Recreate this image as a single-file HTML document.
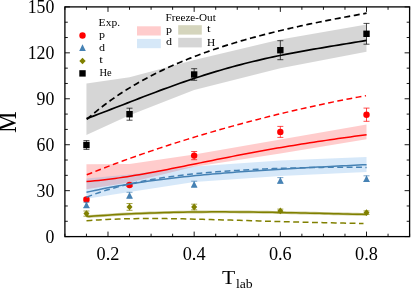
<!DOCTYPE html>
<html><head><meta charset="utf-8"><title>plot</title>
<style>
html,body{margin:0;padding:0;background:#fff;}
body{width:411px;height:288px;overflow:hidden;}
svg{display:block;will-change:transform;font-family:"Liberation Serif",serif;fill:#000;}
</style></head><body>
<svg width="411" height="288" viewBox="0 0 411 288">
<rect width="411" height="288" fill="#fff"/>
<polygon points="86.44,83.4 129.53,77.2 194.16,60 280.34,39.5 366.51,24.5 366.51,51.8 280.34,68.2 194.16,90 129.53,115.3 86.44,135.1" fill="#000" fill-opacity="0.16"/>
<polygon points="86.44,164.3 129.53,164 194.16,154.5 280.34,139.5 366.51,124.5 366.51,139.3 280.34,153.5 194.16,166.8 129.53,182.5 86.44,189.3" fill="#ff0000" fill-opacity="0.2"/>
<polygon points="86.44,178.5 129.53,174.5 194.16,166.5 280.34,160.4 366.51,156.9 366.51,172 280.34,175.9 194.16,182 129.53,192 86.44,198.8" fill="#5aa5e8" fill-opacity="0.25"/>
<path d="M86.44 198 V201 M83.44 198 H89.44 M83.44 201 H89.44" stroke="#ff0000" stroke-width="0.7" fill="none"/>
<circle cx="86.44" cy="199.5" r="3.2" fill="#ff0000"/>
<path d="M129.53 183.5 V186.5 M126.53 183.5 H132.53 M126.53 186.5 H132.53" stroke="#ff0000" stroke-width="0.7" fill="none"/>
<circle cx="129.53" cy="185" r="3.2" fill="#ff0000"/>
<path d="M194.16 151.5 V159.7 M191.16 151.5 H197.16 M191.16 159.7 H197.16" stroke="#ff0000" stroke-width="0.7" fill="none"/>
<circle cx="194.16" cy="155.6" r="3.2" fill="#ff0000"/>
<path d="M280.34 126.4 V137.4 M277.34 126.4 H283.34 M277.34 137.4 H283.34" stroke="#ff0000" stroke-width="0.7" fill="none"/>
<circle cx="280.34" cy="131.9" r="3.2" fill="#ff0000"/>
<path d="M366.51 108.1 V121.3 M363.51 108.1 H369.51 M363.51 121.3 H369.51" stroke="#ff0000" stroke-width="0.7" fill="none"/>
<circle cx="366.51" cy="114.7" r="3.2" fill="#ff0000"/>
<path d="M86.5 181.47 L90.56 181.15 L94.62 180.79 L98.68 180.39 L102.74 179.95 L106.8 179.48 L110.86 178.97 L114.92 178.43 L118.98 177.87 L123.03 177.27 L127.09 176.65 L131.15 176 L135.21 175.34 L139.27 174.65 L143.33 173.94 L147.39 173.22 L151.45 172.48 L155.51 171.72 L159.57 170.96 L163.63 170.18 L167.69 169.39 L171.75 168.59 L175.81 167.79 L179.87 166.98 L183.93 166.16 L187.99 165.34 L192.04 164.52 L196.1 163.7 L200.16 162.88 L204.22 162.05 L208.28 161.23 L212.34 160.41 L216.4 159.59 L220.46 158.78 L224.52 157.97 L228.58 157.17 L232.64 156.37 L236.7 155.58 L240.76 154.8 L244.82 154.02 L248.88 153.25 L252.94 152.49 L257 151.74 L261.06 150.99 L265.11 150.26 L269.17 149.53 L273.23 148.82 L277.29 148.11 L281.35 147.42 L285.41 146.73 L289.47 146.05 L293.53 145.39 L297.59 144.73 L301.65 144.08 L305.71 143.44 L309.77 142.81 L313.83 142.19 L317.89 141.57 L321.95 140.97 L326.01 140.37 L330.07 139.78 L334.12 139.19 L338.18 138.61 L342.24 138.04 L346.3 137.47 L350.36 136.9 L354.42 136.33 L358.48 135.77 L362.54 135.21 L366.6 134.65" fill="none" stroke="#ff0000" stroke-width="1.5"/>
<path d="M86.75 174.81 L90.8 173.18 L94.84 171.57 L98.89 169.99 L102.94 168.42 L106.99 166.86 L111.03 165.33 L115.08 163.81 L119.13 162.31 L123.17 160.82 L127.22 159.36 L131.27 157.9 L135.32 156.47 L139.36 155.04 L143.41 153.64 L147.46 152.25 L151.5 150.87 L155.55 149.51 L159.6 148.16 L163.64 146.83 L167.69 145.51 L171.74 144.2 L175.79 142.91 L179.83 141.63 L183.88 140.36 L187.93 139.11 L191.97 137.87 L196.02 136.64 L200.07 135.43 L204.12 134.22 L208.16 133.03 L212.21 131.86 L216.26 130.69 L220.3 129.53 L224.35 128.39 L228.4 127.26 L232.45 126.14 L236.49 125.04 L240.54 123.94 L244.59 122.86 L248.63 121.78 L252.68 120.72 L256.73 119.67 L260.78 118.63 L264.82 117.61 L268.87 116.59 L272.92 115.58 L276.96 114.59 L281.01 113.61 L285.06 112.64 L289.11 111.68 L293.15 110.73 L297.2 109.79 L301.25 108.86 L305.29 107.95 L309.34 107.05 L313.39 106.15 L317.43 105.27 L321.48 104.41 L325.53 103.55 L329.58 102.7 L333.62 101.87 L337.67 101.05 L341.72 100.24 L345.76 99.45 L349.81 98.66 L353.86 97.89 L357.91 97.13 L361.95 96.39 L366 95.65" fill="none" stroke="#ff0000" stroke-width="1.5" stroke-dasharray="5.85 3.49"/>
<path d="M86.44 202.3 V207.5 M83.44 202.3 H89.44 M83.44 207.5 H89.44" stroke="#4682b4" stroke-width="0.7" fill="none"/>
<polygon points="86.44,201.6 83.14,208.2 89.74,208.2" fill="#4682b4"/>
<path d="M129.53 192.3 V198.3 M126.53 192.3 H132.53 M126.53 198.3 H132.53" stroke="#4682b4" stroke-width="0.7" fill="none"/>
<polygon points="129.53,192 126.23,198.6 132.83,198.6" fill="#4682b4"/>
<path d="M194.16 181.2 V187.2 M191.16 181.2 H197.16 M191.16 187.2 H197.16" stroke="#4682b4" stroke-width="0.7" fill="none"/>
<polygon points="194.16,180.9 190.86,187.5 197.46,187.5" fill="#4682b4"/>
<path d="M280.34 177.6 V183.2 M277.34 177.6 H283.34 M277.34 183.2 H283.34" stroke="#4682b4" stroke-width="0.7" fill="none"/>
<polygon points="280.34,177.1 277.04,183.7 283.64,183.7" fill="#4682b4"/>
<path d="M366.51 175.8 V181.4 M363.51 175.8 H369.51 M363.51 181.4 H369.51" stroke="#4682b4" stroke-width="0.7" fill="none"/>
<polygon points="366.51,175.3 363.21,181.9 369.81,181.9" fill="#4682b4"/>
<path d="M86.5 192.29 L90.56 191.39 L94.62 190.52 L98.68 189.68 L102.74 188.86 L106.8 188.07 L110.86 187.3 L114.92 186.55 L118.98 185.83 L123.03 185.13 L127.09 184.45 L131.15 183.79 L135.21 183.15 L139.27 182.53 L143.33 181.93 L147.39 181.35 L151.45 180.78 L155.51 180.23 L159.57 179.7 L163.63 179.19 L167.69 178.69 L171.75 178.21 L175.81 177.74 L179.87 177.28 L183.93 176.84 L187.99 176.41 L192.04 175.99 L196.1 175.59 L200.16 175.19 L204.22 174.81 L208.28 174.44 L212.34 174.08 L216.4 173.73 L220.46 173.39 L224.52 173.06 L228.58 172.73 L232.64 172.42 L236.7 172.11 L240.76 171.81 L244.82 171.52 L248.88 171.23 L252.94 170.95 L257 170.68 L261.06 170.41 L265.11 170.15 L269.17 169.89 L273.23 169.64 L277.29 169.39 L281.35 169.15 L285.41 168.91 L289.47 168.67 L293.53 168.44 L297.59 168.21 L301.65 167.99 L305.71 167.77 L309.77 167.55 L313.83 167.33 L317.89 167.11 L321.95 166.9 L326.01 166.69 L330.07 166.48 L334.12 166.27 L338.18 166.07 L342.24 165.86 L346.3 165.66 L350.36 165.46 L354.42 165.25 L358.48 165.05 L362.54 164.85 L366.6 164.65" fill="none" stroke="#4682b4" stroke-width="1.5"/>
<path d="M86.5 197.19 L90.56 195.62 L94.62 194.13 L98.68 192.72 L102.74 191.37 L106.8 190.09 L110.86 188.87 L114.92 187.71 L118.98 186.61 L123.03 185.57 L127.09 184.58 L131.15 183.63 L135.21 182.74 L139.27 181.89 L143.33 181.08 L147.39 180.31 L151.45 179.59 L155.51 178.89 L159.57 178.24 L163.63 177.61 L167.69 177.02 L171.75 176.46 L175.81 175.92 L179.87 175.42 L183.93 174.93 L187.99 174.47 L192.04 174.04 L196.1 173.62 L200.16 173.23 L204.22 172.85 L208.28 172.49 L212.34 172.15 L216.4 171.83 L220.46 171.52 L224.52 171.22 L228.58 170.94 L232.64 170.67 L236.7 170.42 L240.76 170.18 L244.82 169.95 L248.88 169.73 L252.94 169.52 L257 169.32 L261.06 169.13 L265.11 168.95 L269.17 168.78 L273.23 168.62 L277.29 168.47 L281.35 168.33 L285.41 168.19 L289.47 168.07 L293.53 167.95 L297.59 167.85 L301.65 167.75 L305.71 167.66 L309.77 167.58 L313.83 167.5 L317.89 167.44 L321.95 167.39 L326.01 167.34 L330.07 167.3 L334.12 167.28 L338.18 167.26 L342.24 167.25 L346.3 167.25 L350.36 167.27 L354.42 167.29 L358.48 167.32 L362.54 167.36 L366.6 167.42" fill="none" stroke="#4682b4" stroke-width="1.5" stroke-dasharray="5.9 3.5"/>
<path d="M86.44 211 V216.2 M83.44 211 H89.44 M83.44 216.2 H89.44" stroke="#808000" stroke-width="0.7" fill="none"/>
<polygon points="86.44,210.2 89.44,213.6 86.44,217 83.44,213.6" fill="#808000"/>
<path d="M129.53 203.5 V210.3 M126.53 203.5 H132.53 M126.53 210.3 H132.53" stroke="#808000" stroke-width="0.7" fill="none"/>
<polygon points="129.53,203.5 132.53,206.9 129.53,210.3 126.53,206.9" fill="#808000"/>
<path d="M194.16 204.2 V209.8 M191.16 204.2 H197.16 M191.16 209.8 H197.16" stroke="#808000" stroke-width="0.7" fill="none"/>
<polygon points="194.16,203.6 197.16,207 194.16,210.4 191.16,207" fill="#808000"/>
<path d="M280.34 209.1 V212.7 M277.34 209.1 H283.34 M277.34 212.7 H283.34" stroke="#808000" stroke-width="0.7" fill="none"/>
<polygon points="280.34,207.5 283.34,210.9 280.34,214.3 277.34,210.9" fill="#808000"/>
<path d="M366.51 210.9 V214.5 M363.51 210.9 H369.51 M363.51 214.5 H369.51" stroke="#808000" stroke-width="0.7" fill="none"/>
<polygon points="366.51,209.3 369.51,212.7 366.51,216.1 363.51,212.7" fill="#808000"/>
<path d="M86.6 213.6 L87.7 216.3 L89 216.44 L93.71 216.09 L98.41 215.76 L103.12 215.44 L107.82 215.13 L112.53 214.84 L117.23 214.57 L121.94 214.31 L126.64 214.06 L131.35 213.83 L136.05 213.61 L140.76 213.41 L145.46 213.22 L150.17 213.04 L154.87 212.88 L159.58 212.73 L164.28 212.59 L168.99 212.47 L173.69 212.35 L178.4 212.25 L183.1 212.17 L187.81 212.09 L192.51 212.03 L197.22 211.97 L201.92 211.93 L206.63 211.9 L211.33 211.87 L216.04 211.86 L220.74 211.86 L225.45 211.87 L230.15 211.88 L234.86 211.9 L239.56 211.94 L244.27 211.98 L248.97 212.03 L253.68 212.08 L258.38 212.14 L263.09 212.21 L267.79 212.28 L272.5 212.36 L277.2 212.45 L281.91 212.54 L286.61 212.63 L291.32 212.73 L296.02 212.83 L300.73 212.93 L305.43 213.04 L310.14 213.15 L314.84 213.26 L319.55 213.37 L324.25 213.48 L328.96 213.59 L333.66 213.7 L338.37 213.81 L343.07 213.92 L347.78 214.03 L352.48 214.13 L357.19 214.23 L361.89 214.33 L366.6 214.42" fill="none" stroke="#808000" stroke-width="2.9" stroke-opacity="0.4"/>
<path d="M86.6 213.6 L87.7 216.3 L89 216.44 L93.71 216.09 L98.41 215.76 L103.12 215.44 L107.82 215.13 L112.53 214.84 L117.23 214.57 L121.94 214.31 L126.64 214.06 L131.35 213.83 L136.05 213.61 L140.76 213.41 L145.46 213.22 L150.17 213.04 L154.87 212.88 L159.58 212.73 L164.28 212.59 L168.99 212.47 L173.69 212.35 L178.4 212.25 L183.1 212.17 L187.81 212.09 L192.51 212.03 L197.22 211.97 L201.92 211.93 L206.63 211.9 L211.33 211.87 L216.04 211.86 L220.74 211.86 L225.45 211.87 L230.15 211.88 L234.86 211.9 L239.56 211.94 L244.27 211.98 L248.97 212.03 L253.68 212.08 L258.38 212.14 L263.09 212.21 L267.79 212.28 L272.5 212.36 L277.2 212.45 L281.91 212.54 L286.61 212.63 L291.32 212.73 L296.02 212.83 L300.73 212.93 L305.43 213.04 L310.14 213.15 L314.84 213.26 L319.55 213.37 L324.25 213.48 L328.96 213.59 L333.66 213.7 L338.37 213.81 L343.07 213.92 L347.78 214.03 L352.48 214.13 L357.19 214.23 L361.89 214.33 L366.6 214.42" fill="none" stroke="#808000" stroke-width="1.5"/>
<path d="M86.5 220.75 L90.51 220.44 L94.53 220.16 L98.54 219.91 L102.56 219.68 L106.57 219.48 L110.59 219.29 L114.6 219.13 L118.62 219 L122.63 218.88 L126.64 218.78 L130.66 218.7 L134.67 218.63 L138.69 218.58 L142.7 218.55 L146.72 218.53 L150.73 218.52 L154.75 218.53 L158.76 218.55 L162.78 218.58 L166.79 218.62 L170.8 218.67 L174.82 218.73 L178.83 218.79 L182.85 218.87 L186.86 218.95 L190.88 219.04 L194.89 219.13 L198.91 219.23 L202.92 219.33 L206.93 219.43 L210.95 219.54 L214.96 219.65 L218.98 219.77 L222.99 219.89 L227.01 220 L231.02 220.12 L235.04 220.24 L239.05 220.36 L243.07 220.48 L247.08 220.6 L251.09 220.72 L255.11 220.84 L259.12 220.96 L263.14 221.08 L267.15 221.2 L271.17 221.31 L275.18 221.42 L279.2 221.54 L283.21 221.65 L287.22 221.75 L291.24 221.86 L295.25 221.96 L299.27 222.07 L303.28 222.17 L307.3 222.26 L311.31 222.36 L315.33 222.46 L319.34 222.55 L323.36 222.64 L327.37 222.73 L331.38 222.82 L335.4 222.91 L339.41 223 L343.43 223.09 L347.44 223.18 L351.46 223.26 L355.47 223.35 L359.49 223.44 L363.5 223.54" fill="none" stroke="#808000" stroke-width="1.5" stroke-dasharray="5.9 3.5"/>
<path d="M86.44 140.6 V149.4 M83.44 140.6 H89.44 M83.44 149.4 H89.44" stroke="#000000" stroke-width="0.7" fill="none"/>
<rect x="83.24" y="141.8" width="6.4" height="6.4" fill="#000000"/>
<path d="M129.53 108.2 V120.2 M126.53 108.2 H132.53 M126.53 120.2 H132.53" stroke="#000000" stroke-width="0.7" fill="none"/>
<rect x="126.33" y="111" width="6.4" height="6.4" fill="#000000"/>
<path d="M194.16 68.7 V80.3 M191.16 68.7 H197.16 M191.16 80.3 H197.16" stroke="#000000" stroke-width="0.7" fill="none"/>
<rect x="190.96" y="71.3" width="6.4" height="6.4" fill="#000000"/>
<path d="M280.34 40.7 V59.7 M277.34 40.7 H283.34 M277.34 59.7 H283.34" stroke="#000000" stroke-width="0.7" fill="none"/>
<rect x="277.14" y="47" width="6.4" height="6.4" fill="#000000"/>
<path d="M366.51 23.4 V44.2 M363.51 23.4 H369.51 M363.51 44.2 H369.51" stroke="#000000" stroke-width="0.7" fill="none"/>
<rect x="363.31" y="30.6" width="6.4" height="6.4" fill="#000000"/>
<path d="M86.5 118.62 L90.56 117.12 L94.62 115.6 L98.68 114.07 L102.74 112.52 L106.8 110.96 L110.86 109.4 L114.92 107.82 L118.98 106.25 L123.03 104.67 L127.09 103.09 L131.15 101.51 L135.21 99.94 L139.27 98.37 L143.33 96.81 L147.39 95.26 L151.45 93.72 L155.51 92.19 L159.57 90.67 L163.63 89.17 L167.69 87.68 L171.75 86.21 L175.81 84.76 L179.87 83.32 L183.93 81.91 L187.99 80.52 L192.04 79.15 L196.1 77.8 L200.16 76.47 L204.22 75.17 L208.28 73.89 L212.34 72.64 L216.4 71.42 L220.46 70.21 L224.52 69.04 L228.58 67.89 L232.64 66.76 L236.7 65.66 L240.76 64.59 L244.82 63.54 L248.88 62.52 L252.94 61.52 L257 60.55 L261.06 59.6 L265.11 58.68 L269.17 57.78 L273.23 56.9 L277.29 56.04 L281.35 55.21 L285.41 54.39 L289.47 53.6 L293.53 52.82 L297.59 52.06 L301.65 51.32 L305.71 50.59 L309.77 49.87 L313.83 49.17 L317.89 48.47 L321.95 47.79 L326.01 47.11 L330.07 46.44 L334.12 45.78 L338.18 45.11 L342.24 44.45 L346.3 43.78 L350.36 43.11 L354.42 42.44 L358.48 41.75 L362.54 41.06 L366.6 40.35" fill="none" stroke="#000000" stroke-width="1.7"/>
<path d="M86.9 119.31 L89.25 117.26 L91.6 115.25 L93.95 113.27 L96.3 111.33 L98.65 109.43 L101 107.58 L103.35 105.76 L105.7 103.99 L108.05 102.25 L110.4 100.55 L112.75 98.88 L115.11 97.25 L117.46 95.65 L119.81 94.08 L122.16 92.55 L124.51 91.04 L126.86 89.57 L129.21 88.12 L131.56 86.69 L133.91 85.3 L136.26 83.93 L138.61 82.58 L140.96 81.26 L143.31 79.97 L145.66 78.69 L148.01 77.44 L150.36 76.21 L152.71 75 L155.06 73.81 L157.41 72.64 L159.76 71.5 L162.11 70.37 L164.46 69.25 L166.81 68.16 L169.16 67.08 L171.52 66.03 L173.87 64.98 L176.22 63.96 L178.57 62.95 L180.92 61.96 L183.27 60.98 L185.62 60.02 L187.97 59.07 L190.32 58.13 L192.67 57.21 L195.02 56.31 L197.37 55.42 L199.72 54.54 L202.07 53.67 L204.42 52.82 L206.77 51.97 L209.12 51.14 L211.47 50.33 L213.82 49.52 L216.17 48.72 L218.52 47.94 L220.87 47.17 L223.22 46.4 L225.57 45.65 L227.93 44.91 L230.28 44.18 L232.63 43.45 L234.98 42.74 L237.33 42.04 L239.68 41.34 L242.03 40.66 L244.38 39.98 L246.73 39.31 L249.08 38.65 L251.43 38 L253.78 37.36 L256.13 36.72 L258.48 36.1 L260.83 35.47 L263.18 34.86 L265.53 34.26 L267.88 33.66 L270.23 33.07 L272.58 32.48 L274.93 31.9 L277.28 31.33 L279.63 30.77 L281.98 30.21 L284.34 29.65 L286.69 29.11 L289.04 28.57 L291.39 28.03 L293.74 27.5 L296.09 26.97 L298.44 26.46 L300.79 25.94 L303.14 25.43 L305.49 24.93 L307.84 24.43 L310.19 23.93 L312.54 23.44 L314.89 22.96 L317.24 22.48 L319.59 22 L321.94 21.53 L324.29 21.06 L326.64 20.59 L328.99 20.13 L331.34 19.68 L333.69 19.22 L336.04 18.77 L338.39 18.33 L340.75 17.88 L343.1 17.44 L345.45 17.01 L347.8 16.57 L350.15 16.14 L352.5 15.71 L354.85 15.29 L357.2 14.87 L359.55 14.45 L361.9 14.03 L364.25 13.62 L366.6 13.2" fill="none" stroke="#000000" stroke-width="1.7" stroke-dasharray="6.05 3.615"/>
<path d="M64.9 236.6h5.0 M409.6 236.6h-5.0 M64.9 221.29h2.9 M409.6 221.29h-2.9 M64.9 205.97h2.9 M409.6 205.97h-2.9 M64.9 190.66h5.0 M409.6 190.66h-5.0 M64.9 175.35h2.9 M409.6 175.35h-2.9 M64.9 160.03h2.9 M409.6 160.03h-2.9 M64.9 144.72h5.0 M409.6 144.72h-5.0 M64.9 129.41h2.9 M409.6 129.41h-2.9 M64.9 114.09h2.9 M409.6 114.09h-2.9 M64.9 98.78h5.0 M409.6 98.78h-5.0 M64.9 83.47h2.9 M409.6 83.47h-2.9 M64.9 68.15h2.9 M409.6 68.15h-2.9 M64.9 52.84h5.0 M409.6 52.84h-5.0 M64.9 37.53h2.9 M409.6 37.53h-2.9 M64.9 22.21h2.9 M409.6 22.21h-2.9 M64.9 6.9h5.0 M409.6 6.9h-5.0 M64.9 236.6v-2.9 M64.9 6.9v2.9 M86.44 236.6v-2.9 M86.44 6.9v2.9 M107.99 236.6v-5.0 M107.99 6.9v5.0 M129.53 236.6v-2.9 M129.53 6.9v2.9 M151.08 236.6v-2.9 M151.08 6.9v2.9 M172.62 236.6v-2.9 M172.62 6.9v2.9 M194.16 236.6v-5.0 M194.16 6.9v5.0 M215.71 236.6v-2.9 M215.71 6.9v2.9 M237.25 236.6v-2.9 M237.25 6.9v2.9 M258.79 236.6v-2.9 M258.79 6.9v2.9 M280.34 236.6v-5.0 M280.34 6.9v5.0 M301.88 236.6v-2.9 M301.88 6.9v2.9 M323.43 236.6v-2.9 M323.43 6.9v2.9 M344.97 236.6v-2.9 M344.97 6.9v2.9 M366.51 236.6v-5.0 M366.51 6.9v5.0 M388.06 236.6v-2.9 M388.06 6.9v2.9 M409.6 236.6v-2.9 M409.6 6.9v2.9" stroke="#000" stroke-width="0.9" fill="none"/>
<rect x="64.9" y="6.9" width="344.7" height="229.7" fill="none" stroke="#000" stroke-width="1.3"/>
<text x="45.5" y="242.8" font-size="18" textLength="8.9" lengthAdjust="spacingAndGlyphs">0</text>
<text x="36.6" y="196.86" font-size="18" textLength="17.8" lengthAdjust="spacingAndGlyphs">30</text>
<text x="36.6" y="150.92" font-size="18" textLength="17.8" lengthAdjust="spacingAndGlyphs">60</text>
<text x="36.6" y="104.98" font-size="18" textLength="17.8" lengthAdjust="spacingAndGlyphs">90</text>
<text x="27.7" y="59.04" font-size="18" textLength="26.7" lengthAdjust="spacingAndGlyphs">120</text>
<text x="27.7" y="13.1" font-size="18" textLength="26.7" lengthAdjust="spacingAndGlyphs">150</text>
<text x="96.59" y="259.9" font-size="18.2" textLength="22.8" lengthAdjust="spacingAndGlyphs">0.2</text>
<text x="182.76" y="259.9" font-size="18.2" textLength="22.8" lengthAdjust="spacingAndGlyphs">0.4</text>
<text x="268.94" y="259.9" font-size="18.2" textLength="22.8" lengthAdjust="spacingAndGlyphs">0.6</text>
<text x="355.11" y="259.9" font-size="18.2" textLength="22.8" lengthAdjust="spacingAndGlyphs">0.8</text>
<text transform="translate(16.2,122.3) rotate(-90)" font-size="27" text-anchor="middle" textLength="21.6" lengthAdjust="spacingAndGlyphs">M</text>
<text x="221.9" y="284" font-size="19.5" textLength="13.2" lengthAdjust="spacingAndGlyphs">T</text>
<text x="235.9" y="287.5" font-size="12.5" textLength="16.8" lengthAdjust="spacingAndGlyphs">lab</text>
<circle cx="82.5" cy="35.5" r="3.2" fill="#ff0000"/>
<polygon points="82.5,44.3 79.2,50.9 85.8,50.9" fill="#4682b4"/>
<polygon points="82.5,57.8 85.7,61 82.5,64.2 79.3,61" fill="#808000"/>
<rect x="79.3" y="70.2" width="6.4" height="6.4" fill="#000000"/>
<text x="98.6" y="25.8" font-size="10.7" textLength="21.5" lengthAdjust="spacingAndGlyphs">Exp.</text>
<text x="99" y="38.4" font-size="10.5" textLength="6" lengthAdjust="spacingAndGlyphs">p</text>
<text x="99" y="50.8" font-size="10.5" textLength="6" lengthAdjust="spacingAndGlyphs">d</text>
<text x="99.3" y="62.7" font-size="10.5" textLength="3.6" lengthAdjust="spacingAndGlyphs">t</text>
<text x="99.5" y="75.9" font-size="11.2" textLength="12.2" lengthAdjust="spacingAndGlyphs">He</text>
<text x="165.6" y="20.6" font-size="10.7" textLength="50.2" lengthAdjust="spacingAndGlyphs">Freeze-Out</text>
<rect x="137" y="26.3" width="23.8" height="9.2" fill="#ffcccc"/>
<rect x="137" y="38.9" width="23.8" height="9.3" fill="#d6e8f8"/>
<rect x="178.2" y="25.2" width="23.6" height="9.4" fill="#d5d5bd"/>
<rect x="178.2" y="37.8" width="23.6" height="9.6" fill="#d5d5d5"/>
<text x="166" y="32.6" font-size="10.5" textLength="6" lengthAdjust="spacingAndGlyphs">p</text>
<text x="166" y="45.4" font-size="10.5" textLength="6" lengthAdjust="spacingAndGlyphs">d</text>
<text x="207" y="32.4" font-size="10.5" textLength="3.6" lengthAdjust="spacingAndGlyphs">t</text>
<text x="207" y="45.6" font-size="10.5" textLength="8.2" lengthAdjust="spacingAndGlyphs">H</text>
</svg>
</body></html>
